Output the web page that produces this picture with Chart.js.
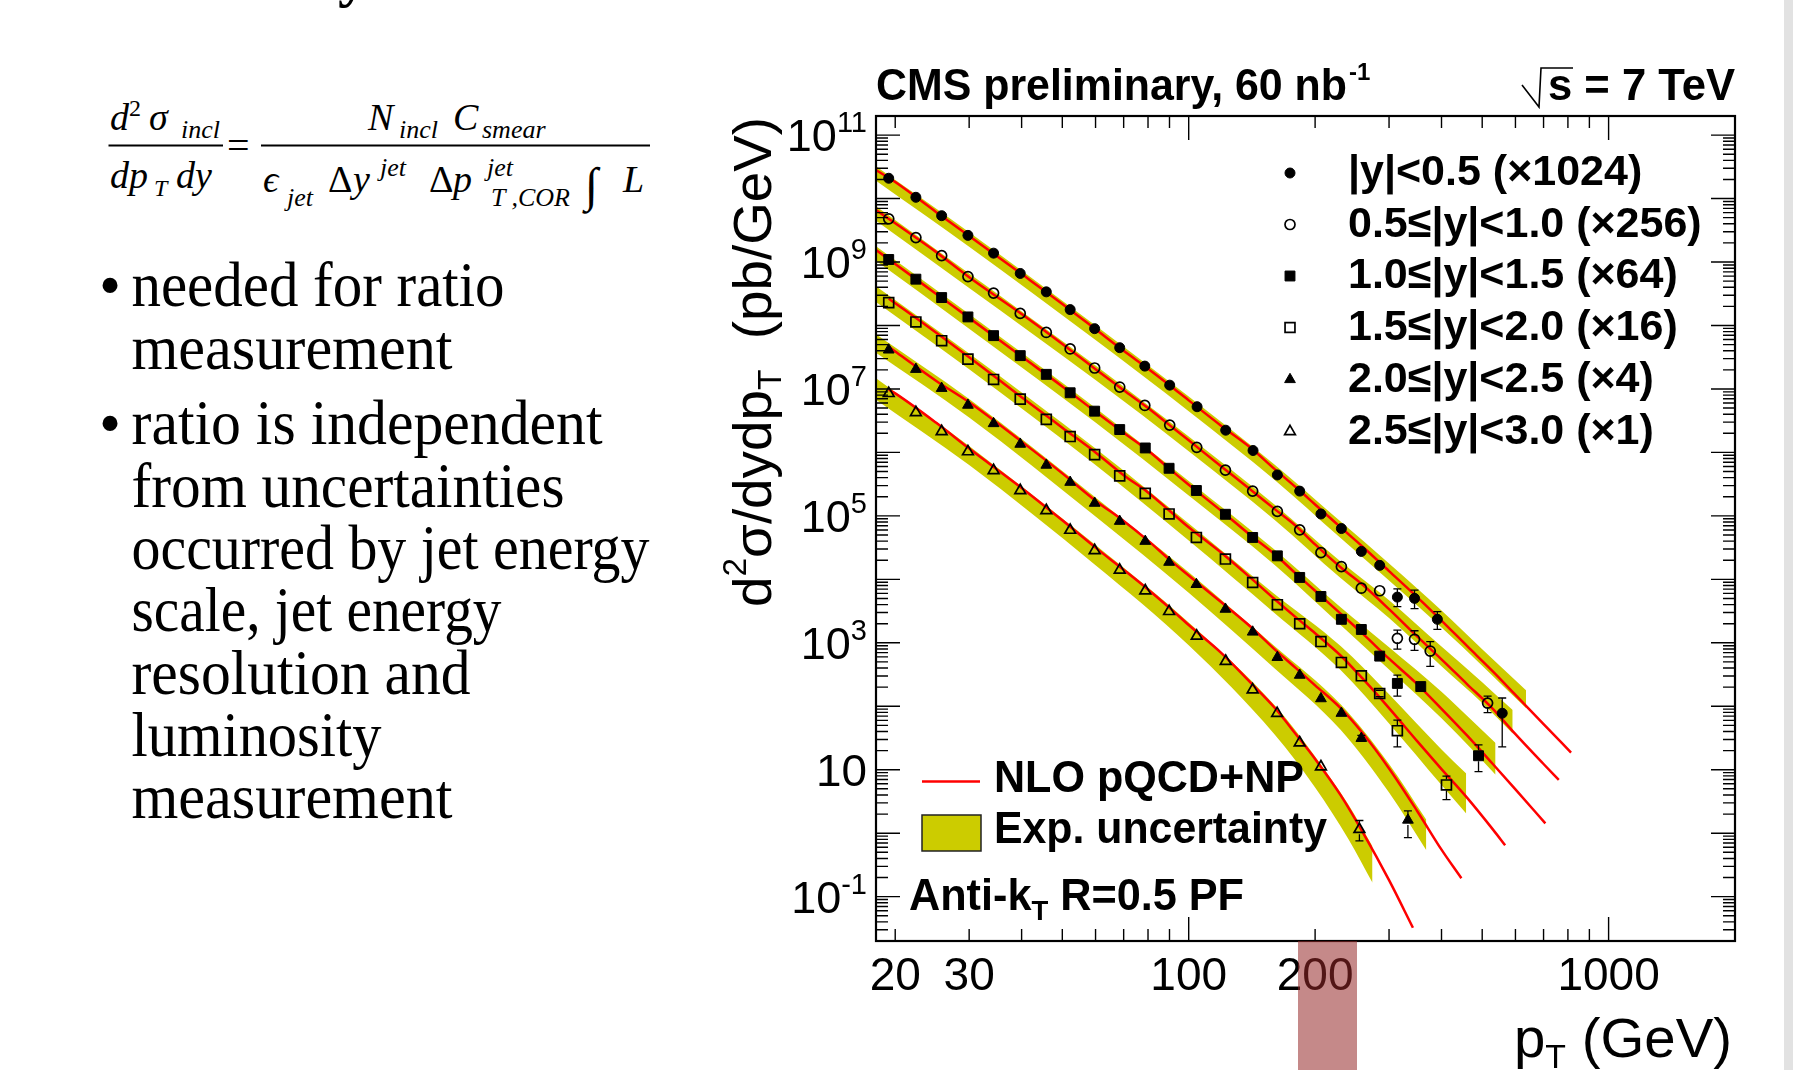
<!DOCTYPE html>
<html>
<head>
<meta charset="utf-8">
<script src="https://cdn.jsdelivr.net/npm/chart.js@4.4.1/dist/chart.umd.min.js"></script>
<style>
  html, body { margin: 0; padding: 0; background: #fff; }
  body { width: 1793px; height: 1070px; position: relative; overflow: hidden; }
  #txt, #c { position: absolute; left: 0; top: 0; }
  #mark { position: absolute; left: 1298px; top: 941px; width: 59px; height: 129px; background: rgba(150, 40, 40, 0.55); }
  #edge { position: absolute; left: 1784px; top: 0; width: 9px; height: 1070px; background: #e2e2e2; }
</style>
</head>
<body>
<svg id="txt" width="1793" height="1070" xmlns="http://www.w3.org/2000/svg">
  <g font-family="'Liberation Serif', 'Times New Roman', serif" fill="#000">
    <text x="338" y="-5" font-size="60" font-weight="bold">y</text>
    <!-- formula -->
    <text x="110" y="130" font-size="38" font-style="italic">d</text>
    <text x="129" y="116" font-size="24">2</text>
    <text x="149" y="130" font-size="38" font-style="italic">σ</text>
    <text x="181" y="138" font-size="26" font-style="italic">incl</text>
    <rect x="108.5" y="144.5" width="114.5" height="2"/>
    <text x="110" y="188" font-size="38" font-style="italic">dp</text>
    <text x="154" y="196" font-size="24" font-style="italic">T</text>
    <text x="176" y="188" font-size="38" font-style="italic">dy</text>
    <text x="227" y="159" font-size="40">=</text>
    <rect x="261" y="144.5" width="389" height="2"/>
    <text x="368" y="130" font-size="38" font-style="italic">N</text>
    <text x="399" y="138" font-size="26" font-style="italic">incl</text>
    <text x="453" y="130" font-size="38" font-style="italic">C</text>
    <text x="482" y="138" font-size="26" font-style="italic">smear</text>
    <text x="263" y="192" font-size="38" font-style="italic">ϵ</text>
    <text x="287" y="206" font-size="26" font-style="italic">jet</text>
    <text x="328" y="192" font-size="38">Δ</text>
    <text x="353" y="192" font-size="38" font-style="italic">y</text>
    <text x="380" y="176" font-size="26" font-style="italic">jet</text>
    <text x="429" y="192" font-size="38">Δ</text>
    <text x="453" y="192" font-size="38" font-style="italic">p</text>
    <text x="487" y="176" font-size="26" font-style="italic">jet</text>
    <text x="491" y="206" font-size="26" font-style="italic">T ,COR</text>
    <text x="585" y="201" font-size="48">∫</text>
    <text x="623" y="192" font-size="38" font-style="italic">L</text>
    <!-- bullets -->
    <g font-size="63">
      <text x="99" y="306">•</text>
      <text x="131.5" y="306" textLength="373" lengthAdjust="spacingAndGlyphs">needed for ratio</text>
      <text x="131.5" y="368.6" textLength="321" lengthAdjust="spacingAndGlyphs">measurement</text>
      <text x="99" y="444.4">•</text>
      <text x="131.5" y="444.4" textLength="471" lengthAdjust="spacingAndGlyphs">ratio is independent</text>
      <text x="131.5" y="506.8" textLength="433" lengthAdjust="spacingAndGlyphs">from uncertainties</text>
      <text x="131.5" y="569" textLength="518" lengthAdjust="spacingAndGlyphs">occurred by jet energy</text>
      <text x="131.5" y="631.4" textLength="370" lengthAdjust="spacingAndGlyphs">scale, jet energy</text>
      <text x="131.5" y="693.8" textLength="339" lengthAdjust="spacingAndGlyphs">resolution and</text>
      <text x="131.5" y="756" textLength="250" lengthAdjust="spacingAndGlyphs">luminosity</text>
      <text x="131.5" y="818.4" textLength="321" lengthAdjust="spacingAndGlyphs">measurement</text>
    </g>
  </g>
</svg>
<canvas id="c" width="1793" height="1070"></canvas>
<div id="mark"></div>
<div id="edge"></div>
<script>
// values are log10 of d2sigma/dydpT (pb/GeV), already multiplied by the legend factor
const LABELS = ['|y|<0.5 (×1024)', '0.5≤|y|<1.0 (×256)', '1.0≤|y|<1.5 (×64)',
                '1.5≤|y|<2.0 (×16)', '2.0≤|y|<2.5 (×4)', '2.5≤|y|<3.0 (×1)'];
const X_TICK_LABELS = [20, 30, 100, 200, 1000];
const Y_TICK_EXP = [11, 9, 7, 5, 3, 1, -1];

// |y|<0.5
const pt1 = [19.3, 22.4, 25.8, 29.8, 34.3, 39.7, 45.8, 52.2, 59.7, 68.5, 78.6, 90.1, 104.7, 122.5, 142.3, 162.6, 183.8, 206.5, 231, 257.7, 285, 314, 345, 391, 558];
const val1 = [10.32, 10.02, 9.73, 9.42, 9.14, 8.82, 8.53, 8.25, 7.95, 7.65, 7.36, 7.06, 6.72, 6.35, 6.03, 5.645, 5.39, 5.03, 4.80, 4.44, 4.22, 3.72, 3.70, 3.37, 1.89];
const err1 = [[314, 3.57, 3.85], [345, 3.54, 3.83], [391, 3.21, 3.49], [558, 1.36, 2.13]];
const thPt1 = [18, 20, 25, 30, 40, 50, 60, 70, 80, 90, 100, 120, 140, 160, 180, 200, 230, 260, 300, 350, 400, 460, 530, 600, 700, 814];
const th1 = [10.45, 10.26, 9.79, 9.41, 8.81, 8.34, 7.94, 7.60, 7.32, 7.06, 6.82, 6.41, 6.08, 5.74, 5.45, 5.18, 4.82, 4.51, 4.13, 3.72, 3.35, 2.95, 2.55, 2.18, 1.72, 1.27];
const bandPt1 = [18, 30, 60, 100, 160, 230, 300, 400, 500, 636];
const bandLo1 = [10.28, 9.24, 7.77, 6.65, 5.57, 4.65, 3.98, 3.24, 2.64, 1.97];
const bandHi1 = [10.51, 9.47, 8.00, 6.88, 5.81, 4.91, 4.25, 3.51, 2.90, 2.25];

// 0.5<=|y|<1.0
const pt2 = [19.3, 22.4, 25.8, 29.8, 34.3, 39.7, 45.8, 52.2, 59.7, 68.5, 78.6, 90.1, 104.5, 122.3, 142, 162.6, 183.8, 206.5, 231, 257.7, 285, 314, 345, 376, 515];
const val2 = [9.68, 9.385, 9.10, 8.77, 8.51, 8.19, 7.89, 7.63, 7.33, 7.03, 6.74, 6.43, 6.08, 5.72, 5.39, 5.07, 4.78, 4.42, 4.20, 3.86, 3.82, 3.07, 3.055, 2.87, 2.05];
const err2 = [[314, 2.90, 3.20], [345, 2.88, 3.19], [376, 2.63, 3.02], [515, 1.90, 2.16]];
const thPt2 = [18, 20, 25, 30, 40, 50, 60, 70, 80, 90, 100, 120, 140, 160, 180, 200, 230, 260, 300, 350, 400, 460, 530, 600, 700, 761];
const th2 = [9.82, 9.61, 9.16, 8.76, 8.18, 7.71, 7.31, 6.98, 6.70, 6.43, 6.19, 5.77, 5.42, 5.11, 4.84, 4.55, 4.19, 3.91, 3.53, 3.10, 2.74, 2.35, 1.96, 1.56, 1.09, 0.84];
const bandPt2 = [18, 30, 60, 100, 160, 230, 300, 400, 500, 591];
const bandLo2 = [9.65, 8.59, 7.14, 6.02, 4.94, 4.02, 3.39, 2.63, 2.05, 1.57];
const bandHi2 = [9.88, 8.82, 7.37, 6.25, 5.18, 4.28, 3.67, 2.94, 2.38, 1.94];

// 1.0<=|y|<1.5
const pt3 = [19.3, 22.4, 25.8, 29.8, 34.3, 39.7, 45.8, 52.2, 59.7, 68.5, 78.8, 89.8, 104.3, 122.3, 142, 162.6, 183.8, 206.5, 231, 257.7, 285, 314, 357, 490];
const val3 = [9.04, 8.73, 8.44, 8.135, 7.84, 7.525, 7.23, 6.94, 6.65, 6.36, 6.07, 5.75, 5.40, 5.025, 4.66, 4.37, 4.03, 3.73, 3.37, 3.21, 2.79, 2.36, 2.31, 1.22];
const err3 = [[285, 2.74, 2.84], [314, 2.16, 2.49], [357, 2.25, 2.36], [490, 0.97, 1.39]];
const thPt3 = [18, 20, 25, 30, 40, 50, 60, 70, 80, 90, 100, 120, 140, 160, 180, 200, 230, 260, 300, 350, 400, 460, 530, 600, 707];
const th3 = [9.19, 8.97, 8.50, 8.12, 7.51, 7.04, 6.64, 6.31, 6.03, 5.74, 5.49, 5.07, 4.70, 4.40, 4.09, 3.82, 3.46, 3.14, 2.75, 2.35, 1.96, 1.54, 1.09, 0.69, 0.155];
const bandPt3 = [18, 30, 60, 100, 160, 230, 300, 400, 470, 538];
const bandLo3 = [9.02, 7.95, 6.47, 5.32, 4.23, 3.28, 2.58, 1.81, 1.34, 0.92];
const bandHi3 = [9.25, 8.18, 6.70, 5.55, 4.47, 3.56, 2.93, 2.23, 1.79, 1.42];

// 1.5<=|y|<2.0
const pt4 = [19.3, 22.4, 25.8, 29.8, 34.3, 39.7, 45.8, 52.2, 59.7, 68.5, 78.8, 89.8, 104.3, 122.3, 142, 162.6, 183.8, 206.5, 231, 257.7, 285, 314, 411];
const val4 = [8.36, 8.056, 7.76, 7.47, 7.15, 6.84, 6.52, 6.25, 5.965, 5.63, 5.355, 5.03, 4.66, 4.32, 3.95, 3.60, 3.30, 3.02, 2.69, 2.48, 2.20, 1.615, 0.76];
const err4 = [[285, 2.15, 2.25], [314, 1.36, 1.78], [411, 0.53, 0.90]];
const thPt4 = [19.3, 20, 25, 30, 40, 50, 60, 70, 80, 90, 100, 120, 140, 160, 180, 200, 230, 260, 300, 350, 400, 460, 530, 567];
const th4 = [8.42, 8.35, 7.89, 7.50, 6.87, 6.39, 6.00, 5.64, 5.37, 5.08, 4.82, 4.41, 4.03, 3.69, 3.40, 3.15, 2.80, 2.43, 1.97, 1.45, 1.01, 0.56, 0.06, -0.19];
const bandPt4 = [18, 30, 60, 100, 160, 230, 300, 400, 458];
const bandLo4 = [8.37, 7.31, 5.80, 4.61, 3.47, 2.57, 1.73, 0.76, 0.31];
const bandHi4 = [8.62, 7.56, 6.06, 4.88, 3.77, 2.95, 2.19, 1.32, 0.94];

// 2.0<=|y|<2.5
const pt5 = [19.3, 22.4, 25.8, 29.8, 34.3, 39.7, 45.8, 52.2, 59.7, 68.5, 78.8, 89.8, 104.3, 122.3, 142, 162.6, 183.8, 206.5, 231, 257.7, 332.7];
const val5 = [7.615, 7.31, 7.01, 6.745, 6.455, 6.13, 5.80, 5.53, 5.20, 4.915, 4.60, 4.27, 3.92, 3.53, 3.17, 2.77, 2.49, 2.12, 1.89, 1.495, 0.207];
const err5 = [[257.7, 1.45, 1.54], [332.7, -0.07, 0.35]];
const thPt5 = [19.3, 20, 25, 30, 40, 50, 60, 70, 80, 90, 100, 120, 140, 160, 180, 200, 230, 260, 300, 350, 400, 446];
const th5 = [7.665, 7.59, 7.13, 6.79, 6.17, 5.67, 5.24, 4.92, 4.61, 4.31, 4.06, 3.63, 3.26, 2.90, 2.60, 2.33, 1.97, 1.57, 1.02, 0.35, -0.26, -0.71];
const bandPt5 = [18, 30, 60, 100, 160, 230, 300, 368];
const bandLo5 = [7.57, 6.55, 4.99, 3.79, 2.60, 1.63, 0.64, -0.27];
const bandHi5 = [7.86, 6.84, 5.29, 4.11, 2.95, 2.03, 1.09, 0.21];

// 2.5<=|y|<3.0
const pt6 = [19.3, 22.4, 25.8, 29.8, 34.3, 39.7, 45.8, 52.2, 59.7, 68.5, 78.8, 89.8, 104.5, 122.5, 142, 162.4, 183.8, 206.5, 255];
const val6 = [6.93, 6.63, 6.33, 6.012, 5.715, 5.40, 5.085, 4.775, 4.455, 4.147, 3.821, 3.495, 3.107, 2.71, 2.26, 1.889, 1.426, 1.047, 0.06];
const err6 = [[255, -0.12, 0.20]];
const thPt6 = [19.3, 20, 25, 30, 40, 50, 60, 70, 80, 90, 100, 120, 140, 160, 180, 200, 230, 260, 300, 342];
const th6 = [6.99, 6.93, 6.47, 6.06, 5.44, 4.93, 4.50, 4.15, 3.84, 3.55, 3.28, 2.83, 2.38, 1.98, 1.56, 1.17, 0.60, 0.01, -0.74, -1.49];
const bandPt6 = [18, 30, 60, 100, 160, 200, 240, 274];
const bandLo6 = [6.83, 5.80, 4.22, 2.96, 1.56, 0.72, -0.09, -0.78];
const bandHi6 = [7.17, 6.10, 4.54, 3.32, 2.02, 1.21, 0.45, -0.21];

const FONT = '"Liberation Sans", Arial, Helvetica, sans-serif';
const BAND_COLOR = 'rgb(204,204,0)';
const RADIUS = { circle: 5, rect: 7, triangle: 6.2 };

const SERIES = [
  { pt: pt1, val: val1, err: err1, thPt: thPt1, th: th1, bPt: bandPt1, bLo: bandLo1, bHi: bandHi1, style: 'circle', filled: true },
  { pt: pt2, val: val2, err: err2, thPt: thPt2, th: th2, bPt: bandPt2, bLo: bandLo2, bHi: bandHi2, style: 'circle', filled: false },
  { pt: pt3, val: val3, err: err3, thPt: thPt3, th: th3, bPt: bandPt3, bLo: bandLo3, bHi: bandHi3, style: 'rect', filled: true },
  { pt: pt4, val: val4, err: err4, thPt: thPt4, th: th4, bPt: bandPt4, bLo: bandLo4, bHi: bandHi4, style: 'rect', filled: false },
  { pt: pt5, val: val5, err: err5, thPt: thPt5, th: th5, bPt: bandPt5, bLo: bandLo5, bHi: bandHi5, style: 'triangle', filled: true },
  { pt: pt6, val: val6, err: err6, thPt: thPt6, th: th6, bPt: bandPt6, bLo: bandLo6, bHi: bandHi6, style: 'triangle', filled: false }
];

const toXY = (xs, logs) => xs.map((x, i) => ({ x: x, y: Math.pow(10, logs[i]) }));

const datasets = [];
SERIES.forEach(s => {
  datasets.push({ data: toXY(s.bPt, s.bLo), borderWidth: 0, pointRadius: 0, fill: false, order: 3, cubicInterpolationMode: 'monotone' });
  datasets.push({ data: toXY(s.bPt, s.bHi), borderWidth: 0, pointRadius: 0, fill: '-1', backgroundColor: BAND_COLOR, order: 3, cubicInterpolationMode: 'monotone' });
});
SERIES.forEach(s => {
  datasets.push({ data: toXY(s.thPt, s.th), borderColor: '#ff0000', borderWidth: 2.5, pointRadius: 0, fill: false, order: 2, cubicInterpolationMode: 'monotone' });
});
SERIES.forEach(s => {
  datasets.push({
    data: toXY(s.pt, s.val), showLine: false, order: 1,
    pointStyle: s.style, pointRadius: RADIUS[s.style],
    pointBackgroundColor: s.filled ? '#000' : 'rgba(0,0,0,0)',
    pointBorderColor: '#000', pointBorderWidth: s.filled ? 1 : 1.7
  });
});

// text made of segments [text, size, dy, weight], optionally squeezed to a width
function rich(ctx, segs, x, y, opt) {
  opt = opt || {};
  const fontOf = s => (s[3] || opt.weight ? (s[3] || opt.weight) + ' ' : '') + s[1] + 'px ' + FONT;
  let total = 0;
  const ws = segs.map(s => { ctx.font = fontOf(s); const w = ctx.measureText(s[0]).width; total += w; return w; });
  const k = opt.width ? opt.width / total : 1;
  let x0 = x;
  if (opt.align === 'right') x0 = x - total * k;
  if (opt.align === 'center') x0 = x - total * k / 2;
  ctx.save();
  ctx.translate(x0, y);
  if (opt.rotate) ctx.rotate(opt.rotate);
  ctx.scale(k, 1);
  ctx.fillStyle = '#000';
  ctx.textAlign = 'left';
  ctx.textBaseline = 'alphabetic';
  let cx = 0;
  segs.forEach((s, i) => { ctx.font = fontOf(s); ctx.fillText(s[0], cx, s[2] || 0); cx += ws[i]; });
  ctx.restore();
  return { x0: x0, w: total * k };
}

function marker(ctx, style, filled, x, y) {
  const r = RADIUS[style];
  ctx.save();
  ctx.beginPath();
  if (style === 'circle') {
    ctx.arc(x, y, r, 0, Math.PI * 2);
  } else if (style === 'rect') {
    const h = r * Math.SQRT1_2;
    ctx.rect(x - h, y - h, 2 * h, 2 * h);
  } else {
    ctx.moveTo(x, y - r);
    ctx.lineTo(x + r * Math.sin(2 * Math.PI / 3), y - r * Math.cos(2 * Math.PI / 3));
    ctx.lineTo(x + r * Math.sin(4 * Math.PI / 3), y - r * Math.cos(4 * Math.PI / 3));
  }
  ctx.closePath();
  if (filled) { ctx.fillStyle = '#000'; ctx.fill(); }
  ctx.lineWidth = filled ? 1 : 1.7;
  ctx.strokeStyle = '#000';
  ctx.stroke();
  ctx.restore();
}

const rootStyle = {
  id: 'rootStyle',
  afterDatasetsDraw(chart) {
    const ctx = chart.ctx, xs = chart.scales.x, ys = chart.scales.y;
    ctx.save();
    ctx.strokeStyle = '#000';
    ctx.lineWidth = 1.3;
    SERIES.forEach(s => s.err.forEach(e => {
      const i = s.pt.indexOf(e[0]);
      const px = xs.getPixelForValue(e[0]);
      const yc = ys.getPixelForValue(Math.pow(10, s.val[i]));
      const yl = ys.getPixelForValue(Math.pow(10, e[1]));
      const yh = ys.getPixelForValue(Math.pow(10, e[2]));
      const r = RADIUS[s.style] * 0.8;
      ctx.beginPath();
      if (yh < yc - r) { ctx.moveTo(px, yh); ctx.lineTo(px, yc - r); }
      if (yl > yc + r) { ctx.moveTo(px, yc + r); ctx.lineTo(px, yl); }
      ctx.moveTo(px - 4, yh); ctx.lineTo(px + 4, yh);
      ctx.moveTo(px - 4, yl); ctx.lineTo(px + 4, yl);
      ctx.stroke();
    }));
    ctx.restore();
  },
  afterDraw(chart) {
    const ctx = chart.ctx, a = chart.chartArea, xs = chart.scales.x, ys = chart.scales.y;
    const seg = (x1, y1, x2, y2) => { ctx.moveTo(x1, y1); ctx.lineTo(x2, y2); };
    ctx.save();
    ctx.strokeStyle = '#000';

    // ticks
    ctx.lineWidth = 1.4;
    ctx.beginPath();
    for (let e = -2; e <= 11; e++) {
      for (let k = 1; k <= 9; k++) {
        const v = k * Math.pow(10, e);
        if (v < ys.min || v > ys.max) continue;
        const py = ys.getPixelForValue(v), len = k === 1 ? 24 : 12;
        seg(a.left, py, a.left + len, py);
        seg(a.right, py, a.right - len, py);
      }
    }
    for (let e = 1; e <= 3; e++) {
      for (let k = 1; k <= 9; k++) {
        const v = k * Math.pow(10, e);
        if (v < xs.min || v > xs.max) continue;
        const px = xs.getPixelForValue(v), len = k === 1 ? 24 : 12;
        seg(px, a.bottom, px, a.bottom - len);
        seg(px, a.top, px, a.top + len);
      }
    }
    ctx.stroke();

    // frame
    ctx.lineWidth = 2.2;
    ctx.strokeRect(a.left, a.top, a.right - a.left, a.bottom - a.top);

    // tick labels
    Y_TICK_EXP.forEach(e => {
      const py = ys.getPixelForValue(Math.pow(10, e)) + 16;
      if (e === 1) rich(ctx, [['10', 45]], 867, py, { align: 'right', width: 51 });
      else rich(ctx, [['10', 45], [String(e), 29, -19]], 867, py, { align: 'right' });
    });
    X_TICK_LABELS.forEach(v => rich(ctx, [[String(v), 46]], xs.getPixelForValue(v), 990, { align: 'center' }));

    // axis titles
    rich(ctx, [['p', 55], ['T', 33, 11], [' (GeV)', 55]], 1732, 1057, { align: 'right', width: 218 });
    rich(ctx, [['d', 54], ['2', 33, -25], ['σ/dydp', 54], ['T', 33, 10], ['  (pb/GeV)', 54]], 771, 607,
         { rotate: -Math.PI / 2, width: 490 });

    // header
    rich(ctx, [['CMS preliminary, 60 nb', 44, 0, 'bold']], 876, 100, { width: 471 });
    rich(ctx, [['-1', 24, 0, 'bold']], 1349, 80);
    const r = rich(ctx, [['s = 7 TeV', 44, 0, 'bold']], 1735, 100, { align: 'right', width: 187 });
    ctx.lineWidth = 1.6;
    ctx.beginPath();
    ctx.moveTo(r.x0 - 26, 85); ctx.lineTo(r.x0 - 9, 107); ctx.lineTo(r.x0 - 7, 68); ctx.lineTo(r.x0 + 25, 68);
    ctx.stroke();

    // legend of rapidity bins
    const legY = [173, 224.5, 276, 327.5, 379.5, 431.5];
    SERIES.forEach((s, i) => {
      marker(ctx, s.style, s.filled, 1290, legY[i]);
      rich(ctx, [[LABELS[i], 43, 0, 'bold']], 1348, legY[i] + 12);
    });

    // theory / band legend
    ctx.strokeStyle = '#ff0000';
    ctx.lineWidth = 2.5;
    ctx.beginPath(); ctx.moveTo(922, 781.5); ctx.lineTo(980, 781.5); ctx.stroke();
    rich(ctx, [['NLO pQCD+NP', 44, 0, 'bold']], 994, 792, { width: 310 });
    ctx.fillStyle = BAND_COLOR;
    ctx.fillRect(922, 815, 59, 36);
    ctx.strokeStyle = '#222';
    ctx.lineWidth = 1.5;
    ctx.strokeRect(922, 815, 59, 36);
    rich(ctx, [['Exp. uncertainty', 44, 0, 'bold']], 994, 843, { width: 333 });
    rich(ctx, [['Anti-k', 44, 0, 'bold'], ['T', 28, 10, 'bold'], [' R=0.5 PF', 44, 0, 'bold']], 909, 910, { width: 335 });
    ctx.restore();
  }
};

new Chart(document.getElementById('c'), {
  type: 'line',
  data: { datasets: datasets },
  options: {
    responsive: false,
    animation: false,
    devicePixelRatio: 1,
    events: [],
    layout: { padding: { left: 876, top: 116, right: 58, bottom: 129 } },
    plugins: { legend: { display: false }, tooltip: { enabled: false } },
    scales: {
      x: { type: 'logarithmic', min: 18, max: 2000, bounds: 'data', display: false },
      y: { type: 'logarithmic', min: 0.02, max: 2e11, bounds: 'data', display: false }
    }
  },
  plugins: [rootStyle]
});
</script>
</body>
</html>
